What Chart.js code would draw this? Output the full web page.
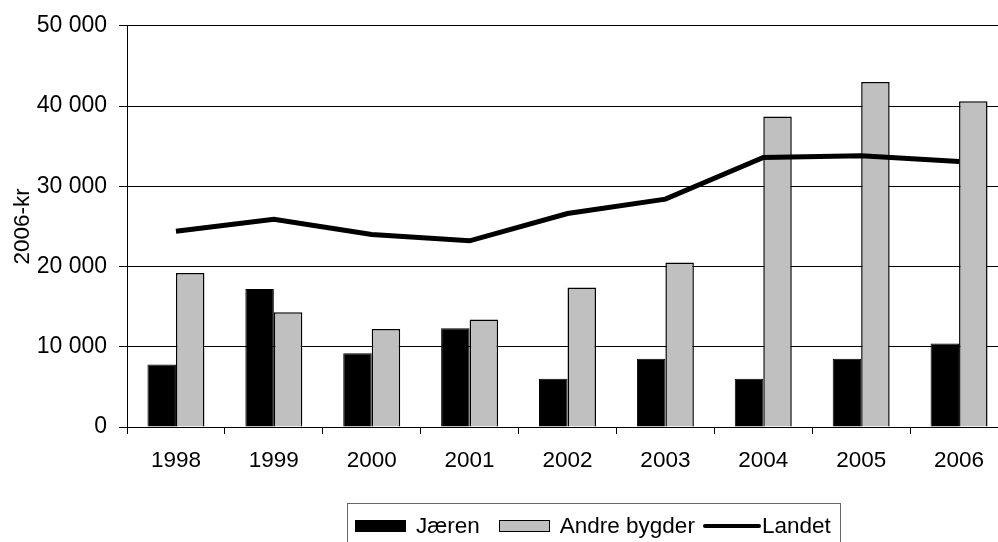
<!DOCTYPE html>
<html>
<head>
<meta charset="utf-8">
<script src="https://cdn.jsdelivr.net/npm/chart.js@4.4.1/dist/chart.umd.min.js"></script>
<style>
  html, body { margin: 0; padding: 0; background: #fff; overflow: hidden; }
  #wrap { position: absolute; left: 0; top: 0; width: 1010px; height: 542px; }
  #legend {
    position: absolute; left: 347px; top: 503px; width: 494px; height: 45px;
    border: 1px solid #666; box-sizing: border-box;
    font-family: "Liberation Sans", Arial, sans-serif; font-size: 22.5px; color: #000;
    display: flex; align-items: center; padding-left: 7px; white-space: nowrap;
  }
  #legend .item { display: flex; align-items: center; }
  #legend .sw { display: inline-block; width: 51px; height: 12px; box-sizing: border-box; border: 1px solid #000; margin-right: 10px; }
  #legend .ln { display: inline-block; width: 58px; height: 4px; background: #000; border-radius: 2px; margin-right: 1px; }
</style>
</head>
<body>
<div id="wrap"><canvas id="chart" width="1010" height="542"></canvas></div>
<div id="legend"></div>
<script>
const years = ['1998', '1999', '2000', '2001', '2002', '2003', '2004', '2005', '2006'];
const jaeren = [7800, 17200, 9200, 12300, 6000, 8500, 6000, 8500, 10400];
const andreBygder = [19200, 14300, 12200, 13400, 17400, 20500, 38700, 43000, 40600];
const landet = [24400, 25900, 24000, 23200, 26600, 28400, 33600, 33800, 33100];
const yTicks = [0, 10000, 20000, 30000, 40000, 50000];

const family = '"Liberation Sans", Arial, sans-serif';

function fmt(v) {
    return String(v).replace(/\B(?=(\d{3})+(?!\d))/g, ' ');
}

new Chart(document.getElementById('chart'), {
    type: 'bar',
    data: {
        labels: years,
        datasets: [{
            type: 'line',
            label: 'Landet',
            data: landet,
            borderColor: '#000',
            borderWidth: 5,
            pointRadius: 0,
            tension: 0,
            order: 0
        }, {
            label: 'Jæren',
            data: jaeren,
            backgroundColor: '#000',
            borderColor: '#000',
            borderWidth: 1,
            order: 1
        }, {
            label: 'Andre bygder',
            data: andreBygder,
            backgroundColor: '#c0c0c0',
            borderColor: '#000',
            borderWidth: 1.5,
            order: 1
        }]
    },
    options: {
        responsive: false,
        animation: false,
        layout: { padding: { top: 25, left: 0, right: 2, bottom: 0 } },
        datasets: {
            bar: { categoryPercentage: 0.582, barPercentage: 1.0 }
        },
        plugins: {
            legend: { display: false },
            tooltip: { enabled: false }
        },
        scales: {
            x: {
                offset: true,
                grid: { display: true, drawOnChartArea: false, offset: true, color: '#000', tickLength: 7 },
                border: { color: '#000', width: 1 },
                ticks: { color: '#000', font: { family: family, size: 22.5 }, padding: 13, maxRotation: 0 },
                afterFit(scale) { scale.height = 115; }
            },
            y: {
                min: 0,
                max: 50000,
                afterBuildTicks(scale) { scale.ticks = yTicks.map(v => ({ value: v })); },
                grid: { color: '#000', tickLength: 8 },
                border: { color: '#000', width: 1 },
                ticks: { color: '#000', font: { family: family, size: 23 }, padding: 12, callback: v => fmt(v) },
                title: { display: true, text: '2006-kr', color: '#000', font: { family: family, size: 22.5 }, padding: { top: 9, bottom: 0 } },
                afterFit(scale) { scale.width = 127; }
            }
        }
    }
});

// legend built from the same series names
const legend = document.getElementById('legend');
legend.innerHTML =
    '<span class="item"><span class="sw" style="background:#000"></span>Jæren</span>' +
    '<span class="item" style="margin-left:19px"><span class="sw" style="background:#c0c0c0"></span>Andre bygder</span>' +
    '<span class="item" style="margin-left:8px"><span class="ln"></span>Landet</span>';
</script>
</body>
</html>
